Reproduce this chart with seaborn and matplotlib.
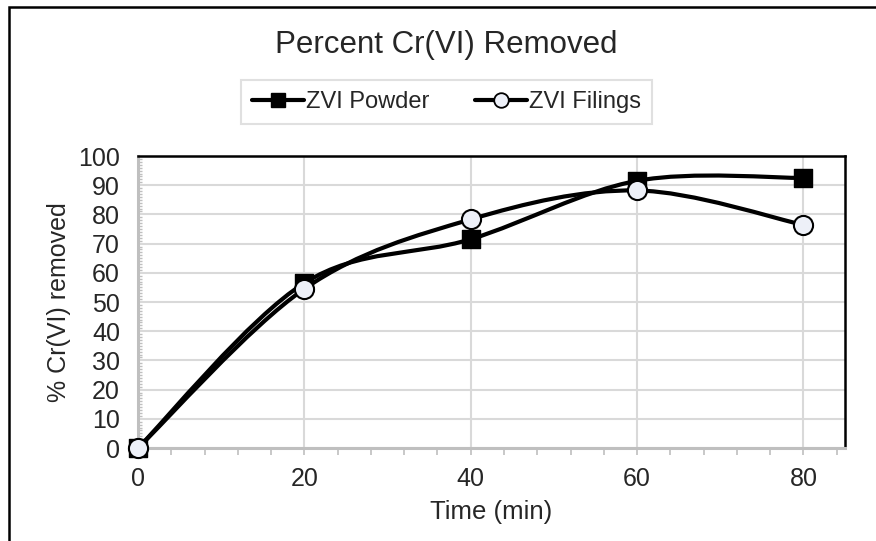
import matplotlib
matplotlib.use("Agg")
import matplotlib.pyplot as plt
from matplotlib.path import Path
from matplotlib.patches import PathPatch, Rectangle
from matplotlib.ticker import MultipleLocator
from matplotlib.lines import Line2D
import seaborn as sns
import pandas as pd
import numpy as np

# ---- data ----
time_min = [0, 20, 40, 60, 80]
zvi_powder = [0, 56.5, 71.5, 91.5, 92.5]
zvi_filings = [0, 54.5, 78.3, 88.2, 76.4]
series_names = ["ZVI Powder", "ZVI Filings"]
x_ticks = [0, 20, 40, 60, 80]
y_ticks = [0, 10, 20, 30, 40, 50, 60, 70, 80, 90, 100]

sns.set_theme(style="white")
plt.rcParams['font.family'] = ['Liberation Sans', 'DejaVu Sans']

df = pd.DataFrame({
    "Time": time_min * 2,
    "Removed": zvi_powder + zvi_filings,
    "Series": [series_names[0]] * len(time_min) + [series_names[1]] * len(time_min),
})

fig = plt.figure(figsize=(8.76, 5.41), dpi=100)
fig.patch.set_facecolor("white")
ax = fig.add_axes([138/876, 1 - 448/541, (845-138)/876, (448-156)/541])

GRID = "#d9d9d9"
AXC = "#bfbfbf"
LW = 3.0
FILL = "#edf0f8"

def smooth_path(xs, ys):
    # Excel-style smoothed line: cubic Bezier segments through the data points
    pts = np.column_stack([xs, ys]).astype(float)
    n = len(pts)
    verts = [pts[0]]
    codes = [Path.MOVETO]
    for i in range(n - 1):
        p0 = pts[max(i - 1, 0)]
        p1 = pts[i]
        p2 = pts[i + 1]
        p3 = pts[min(i + 2, n - 1)]
        c1 = p1 + (p2 - p0) / 6.0
        c2 = p2 - (p3 - p1) / 6.0
        verts += [c1, c2, p2]
        codes += [Path.CURVE4] * 3
    return Path(verts, codes)

for ys in (zvi_powder, zvi_filings):
    ax.add_patch(PathPatch(smooth_path(time_min, ys), facecolor="none",
                           edgecolor="black", lw=LW, zorder=3,
                           capstyle="round", joinstyle="round"))

sub_p = df[df.Series == series_names[0]]
sub_f = df[df.Series == series_names[1]]
sns.scatterplot(data=sub_p, x="Time", y="Removed", marker="s", s=170,
                color="black", edgecolor="black", linewidth=1, ax=ax,
                zorder=4, legend=False, clip_on=False)
sns.scatterplot(data=sub_f, x="Time", y="Removed", marker="o", s=190,
                color=FILL, edgecolor="black", linewidth=1.5, ax=ax,
                zorder=5, legend=False, clip_on=False)

ax.set_xlim(0, 85)
ax.set_ylim(0, 100)
ax.set_xticks(x_ticks)
ax.set_yticks(y_ticks)
ax.xaxis.set_minor_locator(MultipleLocator(4))
ax.yaxis.set_minor_locator(MultipleLocator(1))
ax.grid(True, which="major", color=GRID, lw=1.5, zorder=0)
ax.set_axisbelow(True)

for side in ("top", "right"):
    ax.spines[side].set_color("black")
    ax.spines[side].set_linewidth(1.8)
for side in ("left", "bottom"):
    ax.spines[side].set_color(AXC)
    ax.spines[side].set_linewidth(2.2)
    ax.spines[side].set_zorder(2.5)

ax.tick_params(axis="x", which="both", direction="out", color=AXC,
               length=5, width=1.2, bottom=True, labelsize=18, pad=9)
ax.tick_params(axis="y", which="major", direction="in", length=0,
               left=True, labelsize=18, pad=13)
ax.tick_params(axis="y", which="minor", direction="in", color=AXC,
               length=3, width=1.0, left=True)

ax.set_xlabel("Time (min)", fontsize=18.5, labelpad=6)
ax.set_ylabel("% Cr(VI) removed", fontsize=18, labelpad=5)

fig.text(0.5097, 1 - 45/541, "Percent Cr(VI) Removed", ha="center",
         va="center", fontsize=22.5)

handles = [
    Line2D([0], [0], color="black", lw=LW, marker="s", markersize=10,
           markerfacecolor="black", markeredgecolor="black"),
    Line2D([0], [0], color="black", lw=LW, marker="o", markersize=10.5,
           markerfacecolor=FILL, markeredgecolor="black", markeredgewidth=1.3),
]
leg = fig.legend(handles, series_names, loc="center",
                 bbox_to_anchor=(446.5/876, 1 - 102/541), ncol=2,
                 fontsize=17, frameon=True, fancybox=False,
                 handlelength=2.2, handletextpad=0.1, columnspacing=1.9,
                 borderpad=0.45, borderaxespad=0)
leg.get_frame().set_edgecolor("#d9d9d9")
leg.get_frame().set_linewidth(1.5)

# outer chart border (left & top visible)
fig.patches.append(Rectangle((9/876, -0.05), 1.2, 1 - 7/541 + 0.05,
                             transform=fig.transFigure, fill=False,
                             edgecolor="black", lw=1.8))

fig.savefig("out.png", dpi=100, facecolor="white")
